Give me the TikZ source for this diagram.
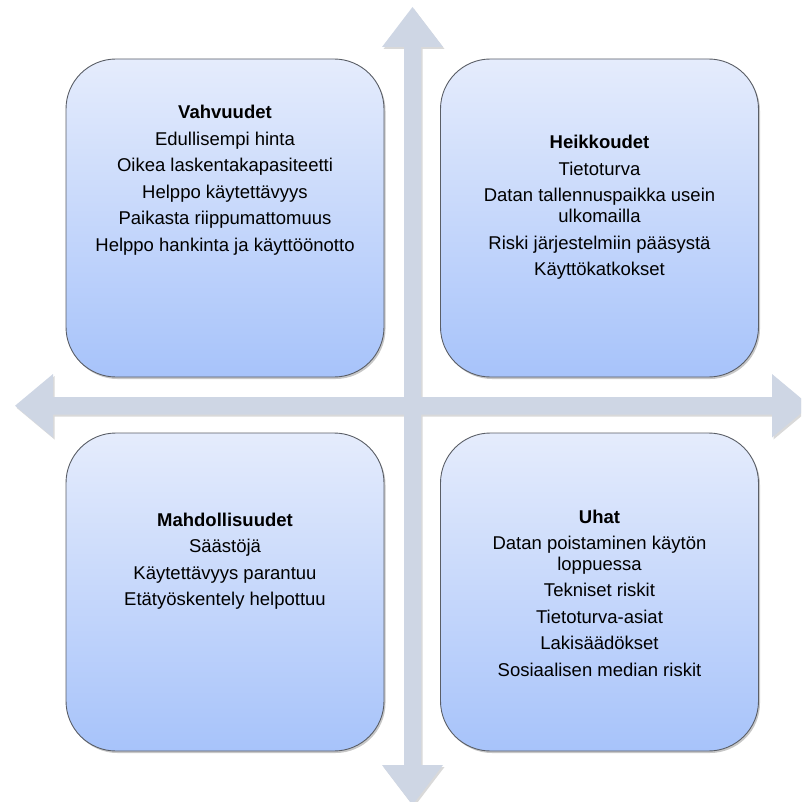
\documentclass[tikz,border=0pt]{standalone}
\usepackage{fontspec}
\setmainfont{Liberation Sans}
\usetikzlibrary{shadows}
\definecolor{arrowfill}{HTML}{CED6E4}
\definecolor{boxtop}{HTML}{E5ECFC}
\definecolor{boxbot}{HTML}{A7C3FA}
\definecolor{boxline}{HTML}{5A5E66}
\tikzset{
  swotbox/.style={draw=boxline, line width=0.9pt, rounded corners=50pt,
    top color=boxtop, bottom color=boxbot,
    minimum width=318pt, minimum height=318pt, inner sep=0pt,
    drop shadow={shadow xshift=1.5pt, shadow yshift=-2pt, opacity=0.22, fill=black}},
  txt/.style={font=\fontsize{18.5}{21}\selectfont, anchor=base, inner sep=0pt},
  hd/.style={txt, font=\fontsize{18.5}{21}\selectfont\bfseries},
}
\begin{document}
\begin{tikzpicture}[x=1pt,y=-1pt]
\useasboundingbox (0,0) rectangle (801,802);
\clip (0,0) rectangle (801,802);
% arrows (cross)
\fill[black,opacity=0.15,xshift=1.5pt,yshift=-2pt]
  (15,405.75) -- (53,374) -- (53,397) -- (772,397) -- (772,374) -- (810,405.75) -- (772,437.5) -- (772,414.5) -- (53,414.5) -- (53,437.5) -- cycle
  (412.5,7) -- (443,47) -- (421,47) -- (421,765) -- (443,765) -- (412.5,805) -- (382,765) -- (404,765) -- (404,47) -- (382,47) -- cycle;
\fill[arrowfill]
  (15,405.75) coordinate (wtip) -- (53,374) -- (53,397) -- (772,397) -- (772,374) -- (810,405.75) coordinate (etip) -- (772,437.5) -- (772,414.5) -- (53,414.5) -- (53,437.5) -- cycle
  (412.5,7) coordinate (ntip) -- (443,47) -- (421,47) -- (421,765) -- (443,765) -- (412.5,805) coordinate (stip) -- (382,765) -- (404,765) -- (404,47) -- (382,47) -- cycle;
% boxes
\node[swotbox] (S) at (225,218) {};
\node[swotbox] (W) at (599.5,218) {};
\node[swotbox] (O) at (225,592) {};
\node[swotbox] (T) at (599.5,592) {};
% strengths
\node[hd]  (s0) at (225,119)   {Vahvuudet};
\node[txt] (s1) at (225,145.5) {Edullisempi hinta};
\node[txt] (s2) at (225,172)   {Oikea laskentakapasiteetti};
\node[txt] (s3) at (225,198.5) {Helppo käytettävyys};
\node[txt] (s4) at (225,225)   {Paikasta riippumattomuus};
\node[txt] (s5) at (225,251.5) {Helppo hankinta ja käyttöönotto};
% weaknesses
\node[hd]  (w0) at (599.5,149)   {Heikkoudet};
\node[txt] (w1) at (599.5,175.5) {Tietoturva};
\node[txt] (w2) at (599.5,202)   {Datan tallennuspaikka usein};
\node[txt] (w3) at (599.5,222.5) {ulkomailla};
\node[txt] (w4) at (599.5,249)   {Riski järjestelmiin pääsystä};
\node[txt] (w5) at (599.5,275.5) {Käyttökatkokset};
% opportunities
\node[hd]  (o0) at (225,526)   {Mahdollisuudet};
\node[txt] (o1) at (225,552.5) {Säästöjä};
\node[txt] (o2) at (225,579)   {Käytettävyys parantuu};
\node[txt] (o3) at (225,605.5) {Etätyöskentely helpottuu};
% threats
\node[hd]  (t0) at (599.5,523)   {Uhat};
\node[txt] (t1) at (599.5,549.5) {Datan poistaminen käytön};
\node[txt] (t2) at (599.5,570)   {loppuessa};
\node[txt] (t3) at (599.5,596.5) {Tekniset riskit};
\node[txt] (t4) at (599.5,623)   {Tietoturva-asiat};
\node[txt] (t5) at (599.5,649.5) {Lakisäädökset};
\node[txt] (t6) at (599.5,676)   {Sosiaalisen median riskit};
\end{tikzpicture}
\end{document}
